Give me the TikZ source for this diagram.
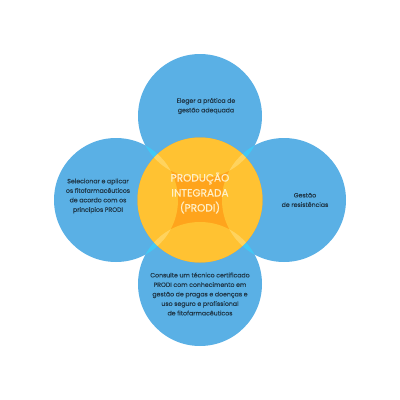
\documentclass[tikz,border=0pt]{standalone}
\usepackage{fontspec}
\setmainfont{Poppins}
\newfontfamily\rotulo{Poppins}[FakeBold=0.5]
\usetikzlibrary{positioning}
\definecolor{azul}{HTML}{5AB0E5}
\definecolor{ciano}{HTML}{40C8F6}
\definecolor{amarelo}{HTML}{FFC232}
\definecolor{claro}{HTML}{FFD35E}
\definecolor{laranja}{HTML}{FFA41C}
\definecolor{texto}{HTML}{213A4C}
\definecolor{creme}{HTML}{FFF0C8}

\begin{document}
\begin{tikzpicture}[x=1pt, y=-1pt,
      t/.style={align=center, inner sep=0pt, text=texto,
                font=\rotulo\fontsize{6.2}{9.5}\selectfont},
      c/.style={align=center, inner sep=0pt, text=creme,
                font=\rotulo\fontsize{10.5}{15}\selectfont}]
    \useasboundingbox (0,0) rectangle (400,400);
    \def\r{62}
    \def\R{62.5}
    % circulos azuis
    \foreach \x/\y in {200/116, 116/200, 284/200, 200/284}
      \fill[azul] (\x,\y) circle (\r);
    % intersecoes entre circulos vizinhos
    \foreach \xa/\ya/\xb/\yb in {200/116/116/200, 200/116/284/200,
                                 200/284/116/200, 200/284/284/200} {
      \begin{scope}
        \clip (\xa,\ya) circle (\r);
        \fill[ciano] (\xb,\yb) circle (\r);
      \end{scope}
    }
    % circulo central
    \fill[laranja] (200,200) circle (\R);
    \begin{scope}
      \clip (200,200) circle (\R);
      \foreach \x/\y in {200/116, 116/200, 284/200, 200/284}
        \fill[amarelo] (\x,\y) circle (\r);
      \foreach \xa/\ya/\xb/\yb in {200/116/116/200, 200/116/284/200,
                                   200/284/116/200, 200/284/284/200} {
        \begin{scope}
          \clip (\xa,\ya) circle (\r);
          \fill[claro] (\xb,\yb) circle (\r);
        \end{scope}
      }
    \end{scope}
    % textos
    \node[t] (topo) at (206,106) {Eleger a prática de\\gestão adequada};
    \node[t] (dir) at (305,200) {Gestão\\de resistências};
    \node[t] (esq) at (98,196) {Selecionar e aplicar\\os fitofarmacêuticos\\de acordo com os\\princípios PRODI};
    \node[t] (baixo) at (200,294) {Consulte um técnico certificado\\PRODI com conhecimento em\\gestão de pragas e doenças e\\uso seguro e profissional\\de fitofarmacêuticos};
    \node[c] (centro) at (200,193) {PRODUÇÃO\\INTEGRADA\\(PRODI)};
  \end{tikzpicture}
\end{document}
